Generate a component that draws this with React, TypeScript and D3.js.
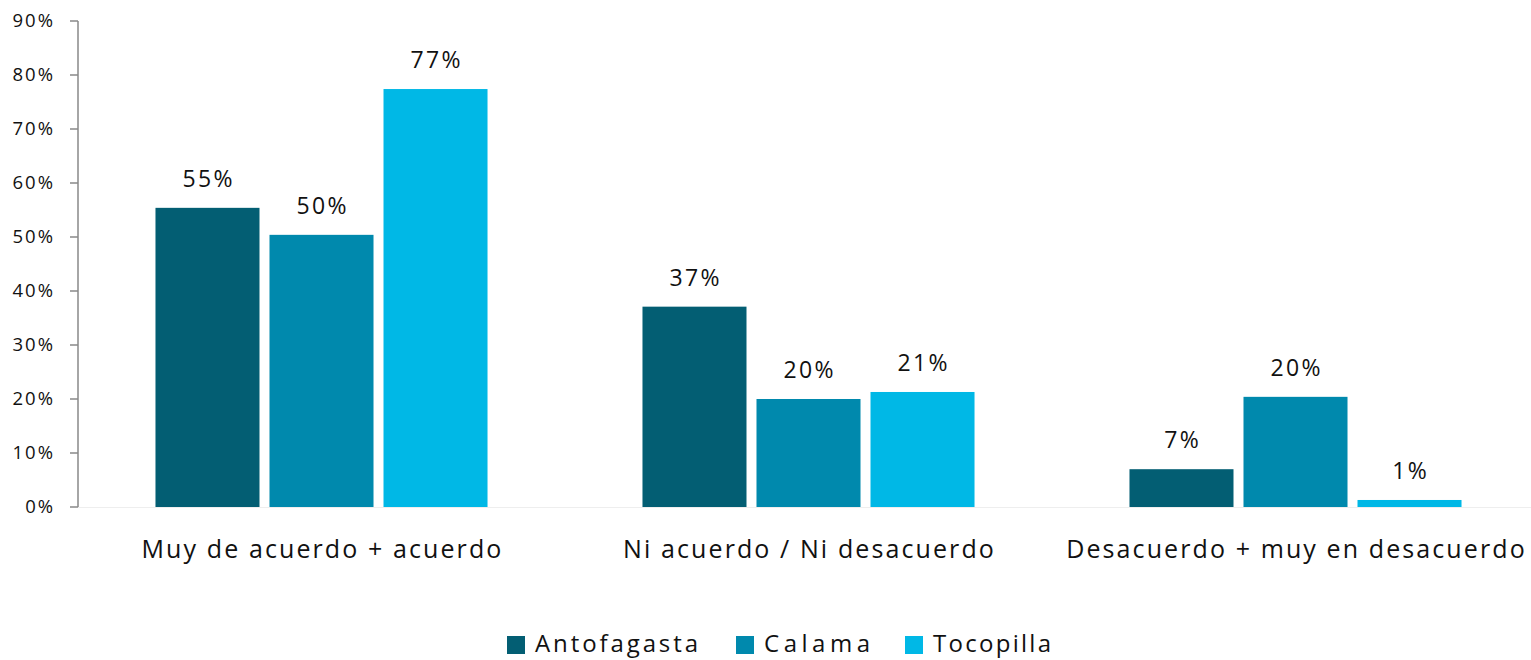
import React from "react";
import * as d3 from "d3";

const categories = ["Muy de acuerdo + acuerdo", "Ni acuerdo / Ni desacuerdo", "Desacuerdo + muy en desacuerdo"];
const seriesNames = ["Antofagasta", "Calama", "Tocopilla"];
const antofagasta = [55.4, 37.1, 7.0];
const calama = [50.4, 20.0, 20.4];
const tocopilla = [77.4, 21.3, 1.3];
const valueLabels = [["55%", "37%", "7%"], ["50%", "20%", "20%"], ["77%", "21%", "1%"]];
const yTicks = [0, 10, 20, 30, 40, 50, 60, 70, 80, 90];
const colors = ["#035e73", "#0089ad", "#00b8e6"];

const W = 1531;
const H = 660;
const FONT = "'Open Sans', 'DejaVu Sans', sans-serif";

export default function App() {
  const series = [antofagasta, calama, tocopilla];
  const y = d3.scaleLinear().domain([0, 90]).range([507, 21]);
  const x0 = d3.scaleBand().domain(categories).range([78, 1539]).paddingInner(0.3182).paddingOuter(0.1591);
  const x1 = d3.scaleBand().domain(seriesNames).range([0, x0.bandwidth()]).paddingInner(0.0877);
  const legendX = [507, 736, 905];
  const legendTextLen = [163, 106, 118];

  return (
    <svg width={W} height={H} style={{ position: "absolute", left: 0, top: 0, background: "#fff" }} fontFamily={FONT}>
      <line x1={78} x2={1531} y1={y(0) + 0.5} y2={y(0) + 0.5} stroke="#eeeeee" strokeWidth={1} />
      {series.map((vals, si) =>
        categories.map((c, ci) => {
          const bx = (x0(c) as number) + (x1(seriesNames[si]) as number);
          const bw = x1.bandwidth();
          return (
            <g key={`${si}-${ci}`}>
              <rect x={bx} y={y(vals[ci])} width={bw} height={y(0) - y(vals[ci])} fill={colors[si]} />
              <text x={bx + bw / 2 + 1.2} y={y(vals[ci]) - 21} textAnchor="middle" fontSize={23} letterSpacing={2.4} fill="#111">
                {valueLabels[si][ci]}
              </text>
            </g>
          );
        })
      )}
      <line x1={78} x2={78} y1={y(90)} y2={y(0)} stroke="#888" strokeWidth={1.5} />
      {yTicks.map((t) => (
        <g key={t}>
          <line x1={70} x2={78} y1={y(t)} y2={y(t)} stroke="#888" strokeWidth={1.5} />
          <text x={55} y={y(t)} dy="0.35em" textAnchor="end" fontSize={18.5} letterSpacing={2} fill="#111">
            {`${t}%`}
          </text>
        </g>
      ))}
      {categories.map((c) => (
        <text key={c} x={(x0(c) as number) + x0.bandwidth() / 2 + 1} y={558} textAnchor="middle" fontSize={25} letterSpacing={2.1} fill="#111">
          {c}
        </text>
      ))}
      {seriesNames.map((s, i) => (
        <g key={s}>
          <rect x={legendX[i]} y={636} width={18} height={18} fill={colors[i]} />
          <text x={legendX[i] + 28} y={652} fontSize={24} textLength={legendTextLen[i]} lengthAdjust="spacing" fill="#111">
            {s}
          </text>
        </g>
      ))}
    </svg>
  );
}
